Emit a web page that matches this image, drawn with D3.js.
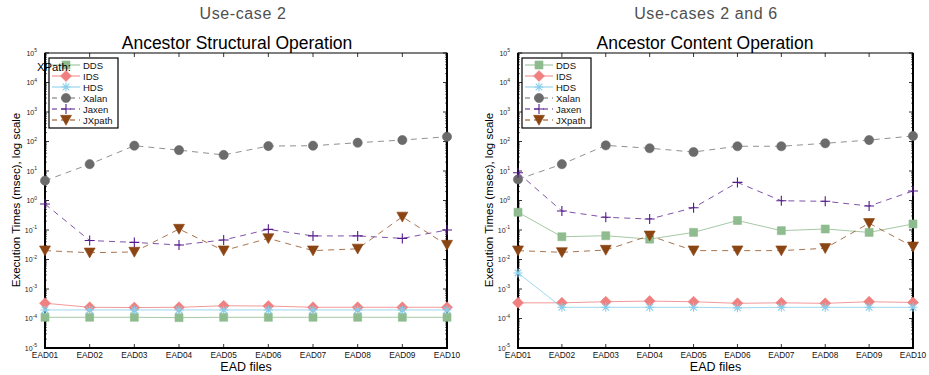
<!DOCTYPE html>
<html>
<head>
<meta charset="utf-8">
<script src="https://cdn.jsdelivr.net/npm/d3@7"></script>
<style>
    body { margin: 0; background: #fff; }
    svg text { font-family: "Liberation Sans", Arial, sans-serif; }
</style>
</head>
<body>
<svg id="fig" width="929" height="375"></svg>
<script>
"use strict";

var files = ["EAD01", "EAD02", "EAD03", "EAD04", "EAD05",
             "EAD06", "EAD07", "EAD08", "EAD09", "EAD10"];
var names = ["DDS", "IDS", "HDS", "Xalan", "Jaxen", "JXpath"];
var decades = [-5, -4, -3, -2, -1, 0, 1, 2, 3, 4, 5];

//Use-case 2, ancestor structural operation (msec)
var strDDS = [1.1e-4, 1.1e-4, 1.1e-4, 1.07e-4, 1.1e-4, 1.1e-4, 1.1e-4, 1.1e-4, 1.1e-4, 1.1e-4];
var strIDS = [3.3e-4, 2.4e-4, 2.35e-4, 2.4e-4, 2.7e-4, 2.65e-4, 2.4e-4, 2.4e-4, 2.4e-4, 2.4e-4];
var strHDS = [1.95e-4, 1.95e-4, 1.95e-4, 1.95e-4, 1.95e-4, 1.95e-4, 1.95e-4, 1.95e-4, 1.95e-4, 1.95e-4];
var strXalan = [4.7, 17, 72, 51, 35, 70, 72, 91, 112, 145];
var strJaxen = [0.76, 0.044, 0.038, 0.031, 0.046, 0.105, 0.063, 0.063, 0.052, 0.1];
var strJXpath = [0.02, 0.017, 0.018, 0.108, 0.02, 0.052, 0.02, 0.023, 0.28, 0.031];

//Use-cases 2 and 6, ancestor content operation (msec)
var conDDS = [0.4, 0.059, 0.064, 0.049, 0.083, 0.21, 0.095, 0.108, 0.083, 0.16];
var conIDS = [3.4e-4, 3.4e-4, 3.7e-4, 3.9e-4, 3.7e-4, 3.27e-4, 3.4e-4, 3.27e-4, 3.7e-4, 3.5e-4];
var conHDS = [3.5e-3, 2.4e-4, 2.4e-4, 2.4e-4, 2.4e-4, 2.3e-4, 2.4e-4, 2.4e-4, 2.4e-4, 2.4e-4];
var conXalan = [5.2, 17, 74, 59, 44, 69, 69, 87, 112, 154];
var conJaxen = [8.7, 0.44, 0.27, 0.235, 0.57, 4.1, 0.98, 0.94, 0.65, 2.1];
var conJXpath = [0.02, 0.0175, 0.021, 0.064, 0.02, 0.02, 0.02, 0.024, 0.17, 0.027];


var styles = [
    {color: "#8fbc8f", marker: "square", dash: null},
    {color: "#f08080", marker: "diamond", dash: null},
    {color: "#87ceeb", marker: "asterisk", dash: null},
    {color: "#6b6b6b", marker: "circle", dash: "6,5"},
    {color: "#551a8b", marker: "plus", dash: "6,5"},
    {color: "#8b4513", marker: "triangle", dash: "6,5"}];

var panels = [
    {left: 45, right: 447, sup: "Use-case 2", title: "Ancestor Structural Operation",
     titleX: 237, supX: 243, xpath: true,
     series: [strDDS, strIDS, strHDS, strXalan, strJaxen, strJXpath]},
    {left: 518, right: 913, sup: "Use-cases 2 and 6", title: "Ancestor Content Operation",
     titleX: 705, supX: 706, xpath: false,
     series: [conDDS, conIDS, conHDS, conXalan, conJaxen, conJXpath]}];

var plotTop = 53, plotBottom = 348;
var svg = d3.select("#fig");


function markerPath (type) {
    var p = d3.path(), r;
    switch(type) {
    case "square":
        r = 4; p.rect(-r, -r, 2 * r, 2 * r); break;
    case "diamond":
        r = 5.5; p.moveTo(0, -r); p.lineTo(r, 0); p.lineTo(0, r); p.lineTo(-r, 0); p.closePath(); break;
    case "circle":
        r = 4.6; p.arc(0, 0, r, 0, 2 * Math.PI); break;
    case "triangle":
        r = 5.5; p.moveTo(-r, -r * 0.85); p.lineTo(r, -r * 0.85); p.lineTo(0, r * 0.95); p.closePath(); break;
    case "plus":
        r = 5; p.moveTo(-r, 0); p.lineTo(r, 0); p.moveTo(0, -r); p.lineTo(0, r); break;
    case "asterisk":
        r = 4.5; p.moveTo(-r, 0); p.lineTo(r, 0); p.moveTo(0, -r); p.lineTo(0, r);
        r = 3.3; p.moveTo(-r, -r); p.lineTo(r, r); p.moveTo(-r, r); p.lineTo(r, -r); break;
    }
    return p.toString();
}


function drawMarker (g, type, color, x, y) {
    var open = (type === "plus" || type === "asterisk");
    g.append("path")
        .attr("d", markerPath(type))
        .attr("transform", "translate(" + x + "," + y + ")")
        .attr("fill", open ? "none" : color)
        .attr("stroke", color)
        .attr("stroke-width", open ? 1.1 : 0.6);
}


function powLabel (sel) {
    sel.each(function (d) {
        var t = d3.select(this).text("");
        t.append("tspan").text("10");
        t.append("tspan").attr("dy", -3.5).attr("font-size", 5).text(d); });
}


function drawPanel (pd) {
    var g = svg.append("g"),
        x = d3.scalePoint().domain(files).range([pd.left, pd.right]),
        y = d3.scaleLog().domain([1e-5, 1e5]).range([plotBottom, plotTop]),
        minors = [], lg;
    decades.slice(0, -1).forEach(function (e) {
        d3.range(2, 10).forEach(function (m) { minors.push(m * Math.pow(10, e)); }); });

    //titles
    g.append("text").attr("x", pd.supX).attr("y", 18.5).attr("text-anchor", "middle")
        .attr("font-size", 16).attr("letter-spacing", 0.6)
        .attr("fill", "#505050").text(pd.sup);
    g.append("text").attr("x", pd.titleX).attr("y", 48.5).attr("text-anchor", "middle")
        .attr("font-size", 17.5).attr("fill", "#000").text(pd.title);

    //box
    g.append("rect").attr("x", pd.left).attr("y", plotTop)
        .attr("width", pd.right - pd.left).attr("height", plotBottom - plotTop)
        .attr("fill", "none").attr("stroke", "#000").attr("stroke-width", 1);
    g.append("path").attr("fill", "none").attr("stroke", "#000").attr("stroke-width", 2)
        .attr("d", "M" + pd.left + "," + plotTop + "V" + plotBottom + "H" + pd.right + "V" + plotTop);

    //y axis ticks (inward, both sides)
    [[pd.left, 1], [pd.right, -1]].forEach(function (side) {
        g.selectAll(null).data(decades).enter().append("line")
            .attr("x1", side[0]).attr("x2", side[0] + side[1] * 4)
            .attr("y1", function (d) { return y(Math.pow(10, d)); })
            .attr("y2", function (d) { return y(Math.pow(10, d)); })
            .attr("stroke", "#000").attr("stroke-width", 0.8);
        g.selectAll(null).data(minors).enter().append("line")
            .attr("x1", side[0]).attr("x2", side[0] + side[1] * 2)
            .attr("y1", function (d) { return y(d); })
            .attr("y2", function (d) { return y(d); })
            .attr("stroke", "#000").attr("stroke-width", 0.6); });
    g.selectAll(null).data(decades).enter().append("text")
        .attr("x", pd.left - 8)
        .attr("y", function (d) { return y(Math.pow(10, d)) + 2.5; })
        .attr("text-anchor", "end").attr("font-size", 7).attr("fill", "#222")
        .call(powLabel);

    //x axis ticks (inward, top and bottom)
    [[plotBottom, -1], [plotTop, 1]].forEach(function (side) {
        g.selectAll(null).data(files).enter().append("line")
            .attr("x1", function (d) { return x(d); })
            .attr("x2", function (d) { return x(d); })
            .attr("y1", side[0]).attr("y2", side[0] + side[1] * 4)
            .attr("stroke", "#000").attr("stroke-width", 0.8); });
    g.selectAll(null).data(files).enter().append("text")
        .attr("x", function (d) { return x(d); }).attr("y", 357.5)
        .attr("text-anchor", "middle").attr("font-size", 8.3).attr("fill", "#111")
        .text(function (d) { return d; });

    g.append("text").attr("x", (pd.left + pd.right) / 2).attr("y", 370.5)
        .attr("text-anchor", "middle").attr("font-size", 12.5).text("EAD files");
    g.append("text")
        .attr("transform", "translate(" + (pd.left - 25) + "," + 200 + ") rotate(-90)")
        .attr("text-anchor", "middle").attr("font-size", 11.5)
        .text("Execution Times (msec), log scale");

    //series
    pd.series.forEach(function (vals, i) {
        var st = styles[i];
        g.append("path").datum(vals)
            .attr("fill", "none").attr("stroke", st.color).attr("stroke-width", 1)
            .attr("stroke-opacity", st.dash ? 0.75 : 0.8)
            .attr("stroke-dasharray", st.dash)
            .attr("d", d3.line().x(function (d, j) { return x(files[j]); })
                .y(function (d) { return y(d); }));
        vals.forEach(function (v, j) { drawMarker(g, st.marker, st.color, x(files[j]), y(v)); }); });

    //legend
    lg = g.append("g").attr("transform", "translate(" + (pd.left + 4) + "," + 58 + ")");
    lg.append("rect").attr("width", 69).attr("height", 70)
        .attr("fill", "#fff").attr("stroke", "#000").attr("stroke-width", 1.2);
    names.forEach(function (nm, i) {
        var st = styles[i], ly = 7 + i * 11;
        lg.append("line").attr("x1", 3).attr("x2", 31).attr("y1", ly).attr("y2", ly)
            .attr("stroke", st.color).attr("stroke-width", 1)
            .attr("stroke-dasharray", st.dash ? "5,4" : null);
        drawMarker(lg, st.marker, st.color, 17, ly);
        lg.append("text").attr("x", 34).attr("y", ly + 3.5)
            .attr("font-size", 9.5).attr("fill", "#111").text(nm); });

    if(pd.xpath) {
        g.append("text").attr("x", 37).attr("y", 70.5).attr("font-size", 11.3)
            .attr("fill", "#000").text("XPath:"); }
}


panels.forEach(drawPanel);
</script>
</body>
</html>
